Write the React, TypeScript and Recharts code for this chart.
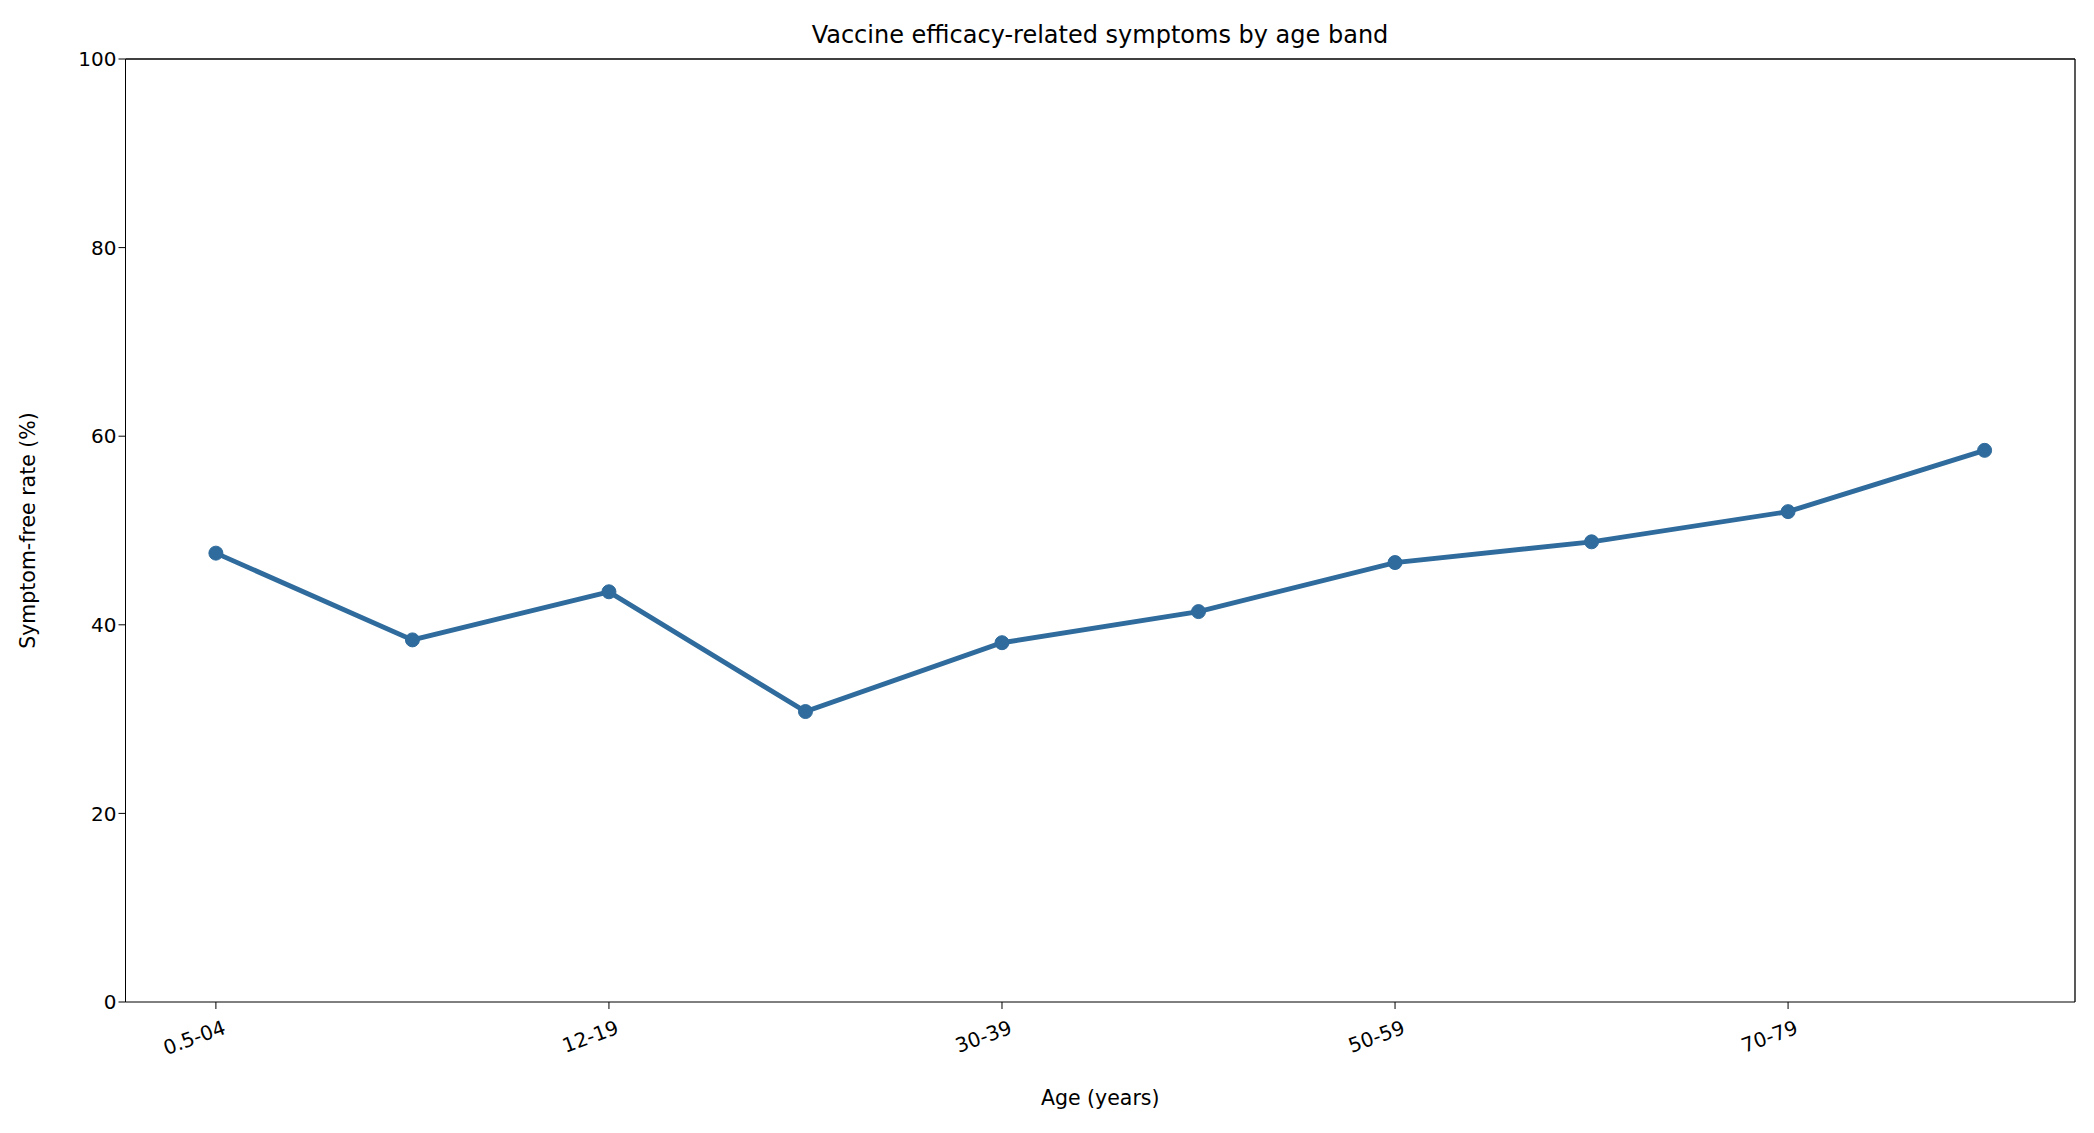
import { LineChart, Line, XAxis, YAxis, ReferenceLine, Label } from "recharts";

const ageBands = ["0.5-04", "05-11", "12-19", "20-29", "30-39", "40-49", "50-59", "60-69", "70-79", "80+"];
const symptomFree = [47.6, 38.4, 43.5, 30.8, 38.1, 41.4, 46.6, 48.8, 52.0, 58.5];
const xTicks = [0, 2, 4, 6, 8];
const yTicks = [0, 20, 40, 60, 80, 100];

const data = ageBands.map((band, i) => ({ idx: i, band, rate: symptomFree[i] }));
const font = "'DejaVu Sans', sans-serif";

const RotTick = (props: any) => {
  const { x, y, payload } = props;
  return (
    <g transform={`translate(${x + 6},${y + 8})`}>
      <text transform="rotate(-20)" textAnchor="end" dy={15} fontSize={20} fill="#000" fontFamily={font}>
        {ageBands[payload.value]}
      </text>
    </g>
  );
};

export default function App() {
  return (
    <div style={{ position: "relative", width: 2078, height: 1117, fontFamily: font }}>
      <div style={{ position: "absolute", top: 13, left: 117, width: 1950, textAlign: "center", fontSize: 24 }}>
        Vaccine efficacy-related symptoms by age band
      </div>
      <LineChart width={2078} height={1117} data={data} margin={{ top: 51, right: 11, left: 0, bottom: 43 }}>
        <XAxis
          dataKey="idx"
          type="number"
          domain={[-0.46, 9.46]}
          ticks={xTicks}
          tick={<RotTick />}
          tickSize={7}
          height={80}
          stroke="#000"
          allowDataOverflow
        >
          <Label value="Age (years)" position="bottom" offset={8} fontSize={20.5} fill="#000" />
        </XAxis>
        <YAxis
          type="number"
          domain={[0, 100]}
          ticks={yTicks}
          width={117.5}
          tickSize={7}
          stroke="#000"
          tick={{ fontSize: 20, fill: "#000" }}
        >
          <Label value="Symptom-free rate (%)" angle={-90} position="insideLeft" offset={20} fontSize={20.5} fill="#000" style={{ textAnchor: "middle" }} />
        </YAxis>
        <ReferenceLine y={100} stroke="#000" strokeWidth={1.3} />
        <ReferenceLine x={9.46} stroke="#000" strokeWidth={1.3} />
        <Line
          dataKey="rate"
          stroke="#2f6b9c"
          strokeWidth={4.9}
          dot={{ r: 7, fill: "#2f6b9c", stroke: "#2f6b9c", strokeWidth: 1 }}
          isAnimationActive={false}
        />
      </LineChart>
    </div>
  );
}
